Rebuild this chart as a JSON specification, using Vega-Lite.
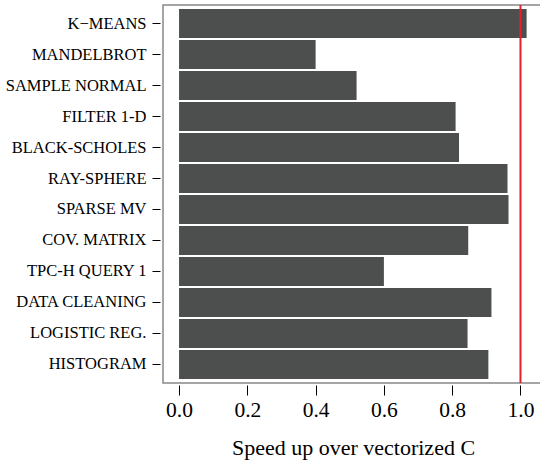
{
  "$schema": "https://vega.github.io/schema/vega-lite/v6.json",
  "autosize": "none",
  "padding": {"left": 163, "top": 5, "right": 0, "bottom": 78},
  "width": 380,
  "height": 378,
  "config": {
    "view": {"stroke": "#888888", "strokeWidth": 1.5},
    "font": "Liberation Serif"
  },
  "datasets": {
    "bars": [
      {"benchmark": "K\u2212MEANS", "speedup": 1.018},
      {"benchmark": "MANDELBROT", "speedup": 0.40},
      {"benchmark": "SAMPLE NORMAL", "speedup": 0.52},
      {"benchmark": "FILTER 1-D", "speedup": 0.81},
      {"benchmark": "BLACK-SCHOLES", "speedup": 0.82},
      {"benchmark": "RAY-SPHERE", "speedup": 0.962},
      {"benchmark": "SPARSE MV", "speedup": 0.965},
      {"benchmark": "COV. MATRIX", "speedup": 0.847},
      {"benchmark": "TPC-H QUERY 1", "speedup": 0.60},
      {"benchmark": "DATA CLEANING", "speedup": 0.915},
      {"benchmark": "LOGISTIC REG.", "speedup": 0.845},
      {"benchmark": "HISTOGRAM", "speedup": 0.906}
    ],
    "ref": [{"baseline": 1.0}]
  },
  "layer": [
    {
      "data": {"name": "bars"},
      "mark": {"type": "bar", "color": "#4d4e4e", "cornerRadius": 0},
      "encoding": {
        "y": {
          "field": "benchmark",
          "type": "nominal",
          "sort": null,
          "scale": {"paddingInner": 0.065, "paddingOuter": 0.13},
          "axis": {
            "title": null,
            "domain": false,
            "offset": 3,
            "tickSize": 8,
            "tickColor": "#000000",
            "tickWidth": 1,
            "labelPadding": 6,
            "labelFont": "Liberation Serif",
            "labelFontSize": 16.5,
            "labelColor": "#000000"
          }
        },
        "x": {
          "field": "speedup",
          "type": "quantitative",
          "scale": {"domain": [-0.047, 1.066], "nice": false, "zero": false},
          "axis": {
            "title": "Speed up over vectorized C",
            "values": [0, 0.2, 0.4, 0.6, 0.8, 1.0],
            "format": ".1f",
            "grid": false,
            "domain": false,
            "offset": 2,
            "tickSize": 10,
            "tickColor": "#000000",
            "labelFont": "Liberation Serif",
            "labelFontSize": 21.5,
            "labelColor": "#000000",
            "labelPadding": 4,
            "titleFont": "Liberation Serif",
            "titleFontSize": 22,
            "titleFontWeight": "normal",
            "titleColor": "#000000",
            "titlePadding": 17
          }
        }
      }
    },
    {
      "data": {"name": "ref"},
      "mark": {"type": "rule", "color": "#e8202a", "strokeWidth": 2},
      "encoding": {
        "x": {"field": "baseline", "type": "quantitative"}
      }
    }
  ]
}
